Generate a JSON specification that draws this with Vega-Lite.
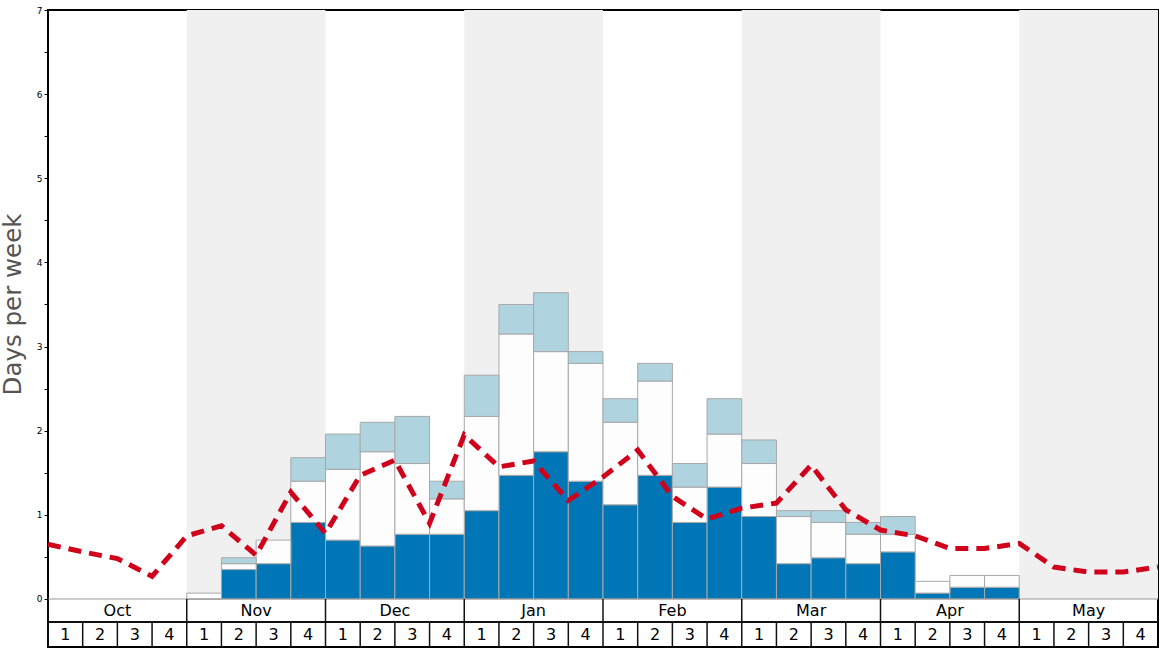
{
  "$schema": "https://vega.github.io/schema/vega-lite/v6.json",
  "width": 1110,
  "height": 637,
  "autosize": {"type": "none"},
  "padding": {"left": 48, "top": 10, "right": 10, "bottom": 1},
  "background": "white",
  "config": {
    "view": {"stroke": "#000000", "strokeWidth": 2},
    "font": "DejaVu Sans"
  },
  "datasets": {
    "months": [
      {"m": "Oct", "s": 0, "e": 4, "c": 2, "grey": 0},
      {"m": "Nov", "s": 4, "e": 8, "c": 6, "grey": 1},
      {"m": "Dec", "s": 8, "e": 12, "c": 10, "grey": 0},
      {"m": "Jan", "s": 12, "e": 16, "c": 14, "grey": 1},
      {"m": "Feb", "s": 16, "e": 20, "c": 18, "grey": 0},
      {"m": "Mar", "s": 20, "e": 24, "c": 22, "grey": 1},
      {"m": "Apr", "s": 24, "e": 28, "c": 26, "grey": 0},
      {"m": "May", "s": 28, "e": 32, "c": 30, "grey": 1}
    ],
    "weeks": [
      {"i": 0, "c": 0.5, "wk": "1"}, {"i": 1, "c": 1.5, "wk": "2"}, {"i": 2, "c": 2.5, "wk": "3"}, {"i": 3, "c": 3.5, "wk": "4"},
      {"i": 4, "c": 4.5, "wk": "1"}, {"i": 5, "c": 5.5, "wk": "2"}, {"i": 6, "c": 6.5, "wk": "3"}, {"i": 7, "c": 7.5, "wk": "4"},
      {"i": 8, "c": 8.5, "wk": "1"}, {"i": 9, "c": 9.5, "wk": "2"}, {"i": 10, "c": 10.5, "wk": "3"}, {"i": 11, "c": 11.5, "wk": "4"},
      {"i": 12, "c": 12.5, "wk": "1"}, {"i": 13, "c": 13.5, "wk": "2"}, {"i": 14, "c": 14.5, "wk": "3"}, {"i": 15, "c": 15.5, "wk": "4"},
      {"i": 16, "c": 16.5, "wk": "1"}, {"i": 17, "c": 17.5, "wk": "2"}, {"i": 18, "c": 18.5, "wk": "3"}, {"i": 19, "c": 19.5, "wk": "4"},
      {"i": 20, "c": 20.5, "wk": "1"}, {"i": 21, "c": 21.5, "wk": "2"}, {"i": 22, "c": 22.5, "wk": "3"}, {"i": 23, "c": 23.5, "wk": "4"},
      {"i": 24, "c": 24.5, "wk": "1"}, {"i": 25, "c": 25.5, "wk": "2"}, {"i": 26, "c": 26.5, "wk": "3"}, {"i": 27, "c": 27.5, "wk": "4"},
      {"i": 28, "c": 28.5, "wk": "1"}, {"i": 29, "c": 29.5, "wk": "2"}, {"i": 30, "c": 30.5, "wk": "3"}, {"i": 31, "c": 31.5, "wk": "4"}
    ],
    "bars": [
      {"i": 4, "e": 5, "d": 0, "w": 0.07, "l": 0.07},
      {"i": 5, "e": 6, "d": 0.35, "w": 0.42, "l": 0.49},
      {"i": 6, "e": 7, "d": 0.42, "w": 0.70, "l": 0.70},
      {"i": 7, "e": 8, "d": 0.91, "w": 1.40, "l": 1.68},
      {"i": 8, "e": 9, "d": 0.70, "w": 1.54, "l": 1.96},
      {"i": 9, "e": 10, "d": 0.63, "w": 1.75, "l": 2.10},
      {"i": 10, "e": 11, "d": 0.77, "w": 1.61, "l": 2.17},
      {"i": 11, "e": 12, "d": 0.77, "w": 1.19, "l": 1.40},
      {"i": 12, "e": 13, "d": 1.05, "w": 2.17, "l": 2.66},
      {"i": 13, "e": 14, "d": 1.47, "w": 3.15, "l": 3.50},
      {"i": 14, "e": 15, "d": 1.75, "w": 2.94, "l": 3.64},
      {"i": 15, "e": 16, "d": 1.40, "w": 2.80, "l": 2.94},
      {"i": 16, "e": 17, "d": 1.12, "w": 2.10, "l": 2.38},
      {"i": 17, "e": 18, "d": 1.47, "w": 2.59, "l": 2.80},
      {"i": 18, "e": 19, "d": 0.91, "w": 1.33, "l": 1.61},
      {"i": 19, "e": 20, "d": 1.33, "w": 1.96, "l": 2.38},
      {"i": 20, "e": 21, "d": 0.98, "w": 1.61, "l": 1.89},
      {"i": 21, "e": 22, "d": 0.42, "w": 0.98, "l": 1.05},
      {"i": 22, "e": 23, "d": 0.49, "w": 0.91, "l": 1.05},
      {"i": 23, "e": 24, "d": 0.42, "w": 0.77, "l": 0.91},
      {"i": 24, "e": 25, "d": 0.56, "w": 0.77, "l": 0.98},
      {"i": 25, "e": 26, "d": 0.07, "w": 0.21, "l": 0.21},
      {"i": 26, "e": 27, "d": 0.14, "w": 0.28, "l": 0.28},
      {"i": 27, "e": 28, "d": 0.14, "w": 0.28, "l": 0.28}
    ],
    "line": [
      {"x": 0, "v": 0.65}, {"x": 1, "v": 0.56}, {"x": 2, "v": 0.48}, {"x": 3, "v": 0.27},
      {"x": 4, "v": 0.75}, {"x": 5, "v": 0.87}, {"x": 6, "v": 0.52}, {"x": 7, "v": 1.27},
      {"x": 8, "v": 0.78}, {"x": 9, "v": 1.47}, {"x": 10, "v": 1.65}, {"x": 11, "v": 0.90},
      {"x": 12, "v": 1.95}, {"x": 13, "v": 1.57}, {"x": 14, "v": 1.64}, {"x": 15, "v": 1.17},
      {"x": 16, "v": 1.45}, {"x": 17, "v": 1.77}, {"x": 18, "v": 1.22}, {"x": 19, "v": 0.95},
      {"x": 20, "v": 1.08}, {"x": 21, "v": 1.14}, {"x": 22, "v": 1.59}, {"x": 23, "v": 1.06},
      {"x": 24, "v": 0.82}, {"x": 25, "v": 0.75}, {"x": 26, "v": 0.60}, {"x": 27, "v": 0.60},
      {"x": 28, "v": 0.66}, {"x": 29, "v": 0.38}, {"x": 30, "v": 0.32}, {"x": 31, "v": 0.32},
      {"x": 32, "v": 0.38}
    ]
  },
  "layer": [
    {
      "data": {"name": "months"},
      "transform": [{"filter": "datum.grey == 1"}],
      "mark": {"type": "rect", "color": "#f0f0f0"},
      "encoding": {
        "x": {"field": "s", "type": "quantitative", "scale": {"domain": [0, 32], "nice": false, "zero": false}, "axis": null},
        "x2": {"field": "e"},
        "y": {"datum": 0, "type": "quantitative", "scale": {"domain": [-0.5705, 7], "nice": false, "zero": false},
          "axis": {
            "values": [0, 0.5, 1, 1.5, 2, 2.5, 3, 3.5, 4, 4.5, 5, 5.5, 6, 6.5, 7],
            "labelExpr": "datum.value % 1 === 0 ? format(datum.value, 'd') : ''",
            "grid": false, "domain": false, "tickColor": "#000000", "tickSize": 4,
            "labelFontSize": 9, "labelColor": "#000000", "labelPadding": 2,
            "title": "Days per week", "titleFontSize": 24.5, "titleColor": "#555555", "titleFontWeight": "normal",
            "titleAngle": -90, "titleX": -35, "titleY": 294, "titleAlign": "center", "titleBaseline": "middle"
          }
        },
        "y2": {"datum": 7}
      }
    },
    {
      "data": {"name": "bars"},
      "mark": {"type": "rect", "color": "#0076b6", "stroke": "#a8a8a8", "strokeWidth": 1},
      "encoding": {
        "x": {"field": "i", "type": "quantitative"},
        "x2": {"field": "e"},
        "y": {"field": "d", "type": "quantitative"},
        "y2": {"datum": 0}
      }
    },
    {
      "data": {"name": "bars"},
      "mark": {"type": "rect", "color": "#fdfdfd", "stroke": "#a8a8a8", "strokeWidth": 1},
      "encoding": {
        "x": {"field": "i", "type": "quantitative"},
        "x2": {"field": "e"},
        "y": {"field": "w", "type": "quantitative"},
        "y2": {"field": "d"}
      }
    },
    {
      "data": {"name": "bars"},
      "transform": [{"filter": "datum.l > datum.w"}],
      "mark": {"type": "rect", "color": "#afd3df", "stroke": "#a8a8a8", "strokeWidth": 1},
      "encoding": {
        "x": {"field": "i", "type": "quantitative"},
        "x2": {"field": "e"},
        "y": {"field": "l", "type": "quantitative"},
        "y2": {"field": "w"}
      }
    },
    {
      "data": {"name": "line"},
      "mark": {"type": "line", "color": "#d0021b", "strokeWidth": 5, "strokeDash": [13, 8]},
      "encoding": {
        "x": {"field": "x", "type": "quantitative"},
        "y": {"field": "v", "type": "quantitative"}
      }
    },
    {
      "data": {"values": [{"a": 0, "b": 32}]},
      "mark": {"type": "rule", "color": "#999999", "strokeWidth": 1},
      "encoding": {
        "x": {"field": "a", "type": "quantitative"},
        "x2": {"field": "b"},
        "y": {"datum": 0, "type": "quantitative"}
      }
    },
    {
      "data": {"values": [{"a": 0, "b": 32}]},
      "mark": {"type": "rule", "color": "#111111", "strokeWidth": 2},
      "encoding": {
        "x": {"field": "a", "type": "quantitative"},
        "x2": {"field": "b"},
        "y": {"datum": -0.2734, "type": "quantitative"}
      }
    },
    {
      "data": {"name": "months"},
      "mark": {"type": "rule", "color": "#111111", "strokeWidth": 1.5},
      "encoding": {
        "x": {"field": "s", "type": "quantitative"},
        "y": {"datum": 0, "type": "quantitative"},
        "y2": {"datum": -0.2734}
      }
    },
    {
      "data": {"name": "weeks"},
      "mark": {"type": "rule", "color": "#111111", "strokeWidth": 1.5},
      "encoding": {
        "x": {"field": "i", "type": "quantitative"},
        "y": {"datum": -0.2734, "type": "quantitative"},
        "y2": {"datum": -0.5705}
      }
    },
    {
      "data": {"name": "months"},
      "mark": {"type": "text", "fontSize": 16, "color": "#000000", "baseline": "middle", "align": "center"},
      "encoding": {
        "x": {"field": "c", "type": "quantitative"},
        "y": {"datum": -0.137, "type": "quantitative"},
        "text": {"field": "m"}
      }
    },
    {
      "data": {"name": "weeks"},
      "mark": {"type": "text", "fontSize": 16, "color": "#000000", "baseline": "middle", "align": "center"},
      "encoding": {
        "x": {"field": "c", "type": "quantitative"},
        "y": {"datum": -0.422, "type": "quantitative"},
        "text": {"field": "wk"}
      }
    }
  ]
}
